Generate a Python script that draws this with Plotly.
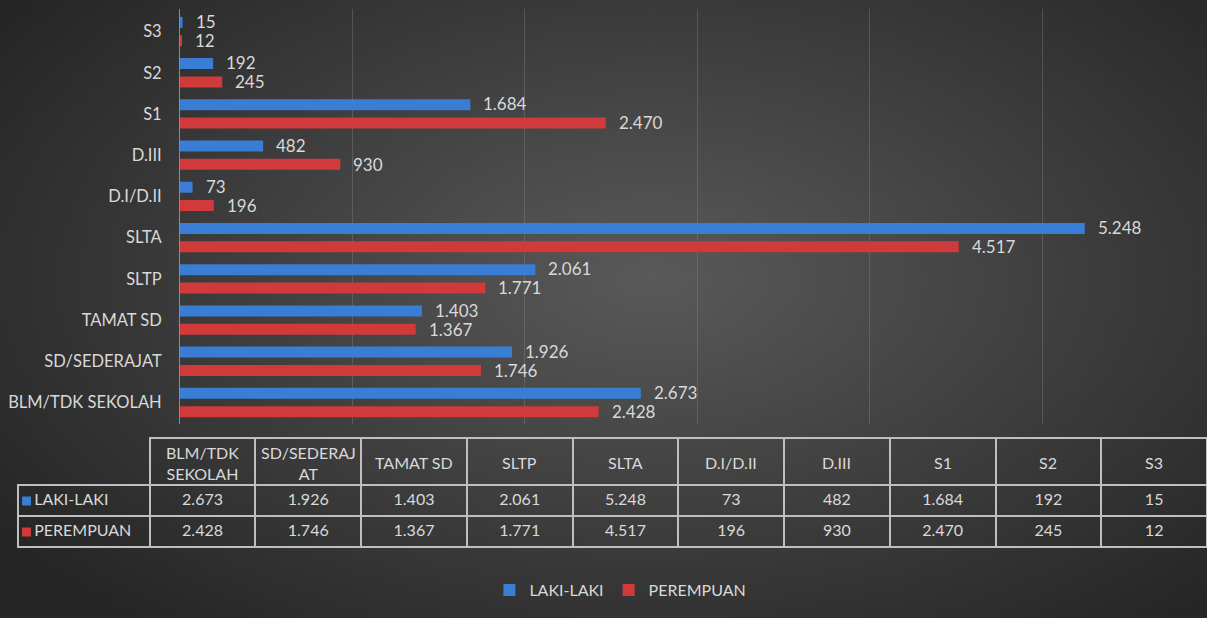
import base64
import struct
import zlib
import plotly.graph_objects as go

# ---------------- data ----------------
categories = ["BLM/TDK SEKOLAH", "SD/SEDERAJAT", "TAMAT SD", "SLTP", "SLTA",
              "D.I/D.II", "D.III", "S1", "S2", "S3"]
table_headers = ["BLM/TDK<br>SEKOLAH", "SD/SEDERAJ<br>AT", "TAMAT SD", "SLTP", "SLTA",
                 "D.I/D.II", "D.III", "S1", "S2", "S3"]
laki_laki = [2673, 1926, 1403, 2061, 5248, 73, 482, 1684, 192, 15]
perempuan = [2428, 1746, 1367, 1771, 4517, 196, 930, 2470, 245, 12]
series_names = ["LAKI-LAKI", "PEREMPUAN"]

# ---------------- style ----------------
W, H = 1207, 618
BLUE = "#3A7DD4"
RED = "#D03A3A"
TXT = "#D9D9D9"
FONT = "Lato"


def fmt(v):
    return f"{v:,}".replace(",", ".")


def gradient_png(w, h):
    # radial dark background (style only)
    cx, cy, rx, ry = 0.54 * w, 0.45 * h, 0.58 * w, 0.65 * h
    raw = bytearray()
    for j in range(h):
        raw.append(0)
        for i in range(w):
            t = (((i + 0.5) - cx) / rx) ** 2 + (((j + 0.5) - cy) / ry) ** 2
            t = t ** 0.5
            c = int(max(38, min(90, 90 - 46 * t)))
            raw += bytes((c, c, c))

    def chunk(tag, data):
        c = struct.pack(">I", len(data)) + tag + data
        return c + struct.pack(">I", zlib.crc32(tag + data) & 0xFFFFFFFF)

    png = b"\x89PNG\r\n\x1a\n"
    png += chunk(b"IHDR", struct.pack(">IIBBBBB", w, h, 8, 2, 0, 0, 0))
    png += chunk(b"IDAT", zlib.compress(bytes(raw), 9))
    png += chunk(b"IEND", b"")
    return "data:image/png;base64," + base64.b64encode(png).decode()


fig = go.Figure()

# PEREMPUAN first so that it sits below LAKI-LAKI in each group
fig.add_trace(go.Bar(y=categories, x=perempuan, orientation="h", name=series_names[1],
                     marker=dict(color=RED, line=dict(width=0)), legendrank=2,
                     hoverinfo="skip"))
fig.add_trace(go.Bar(y=categories, x=laki_laki, orientation="h", name=series_names[0],
                     marker=dict(color=BLUE, line=dict(width=0)), legendrank=1,
                     hoverinfo="skip"))

# data labels
annotations = []
for cat, v in zip(categories, laki_laki):
    annotations.append(dict(x=v, y=cat, xref="x", yref="y", text=fmt(v), showarrow=False,
                            xanchor="left", yanchor="middle", xshift=11, yshift=10,
                            font=dict(family=FONT, size=17, color=TXT)))
for cat, v in zip(categories, perempuan):
    annotations.append(dict(x=v, y=cat, xref="x", yref="y", text=fmt(v), showarrow=False,
                            xanchor="left", yanchor="middle", xshift=11, yshift=-9,
                            font=dict(family=FONT, size=17, color=TXT)))

# data table
first_col = ["\u00a0\u00a0" + series_names[0], "\u00a0\u00a0" + series_names[1]]
cell_values = [first_col] + [[fmt(a), fmt(b)] for a, b in zip(laki_laki, perempuan)]
LINE = "#BFBFBF"
TBL_LEFT, TBL_TOP = 18, 438
HDR_H, ROW_H = 47, 31
COL_W = [132] + [106] * len(categories)
fig.add_trace(go.Table(
    domain=dict(x=[TBL_LEFT / W, 1.0], y=[1 - 575 / H, 1 - TBL_TOP / H]),
    columnwidth=COL_W,
    header=dict(values=[""] * (len(categories) + 1), height=HDR_H,
                fill=dict(color="rgba(0,0,0,0)"),
                line=dict(color=["rgba(0,0,0,0)"] + [LINE] * len(categories), width=2),
                align="center", font=dict(family=FONT, size=16, color=TXT)),
    cells=dict(values=cell_values, height=ROW_H,
               fill=dict(color="rgba(0,0,0,0)"),
               line=dict(color=LINE, width=2),
               align=["left"] + ["center"] * len(categories),
               font=dict(family=FONT, size=16, color=TXT)),
))

# header labels, vertically centred in the header row
scale = (W - TBL_LEFT) / sum(COL_W)
x_left = TBL_LEFT + COL_W[0] * scale
for i, lab in enumerate(table_headers):
    xc = x_left + (sum(COL_W[1:i + 1]) + COL_W[i + 1] / 2) * scale
    annotations.append(dict(xref="paper", yref="paper", x=xc / W,
                            y=1 - (TBL_TOP + HDR_H / 2 + 1) / H,
                            text=lab, showarrow=False, xanchor="center", yanchor="middle",
                            font=dict(family=FONT, size=16, color=TXT)))

# coloured series keys inside the table's first column (small squares)
shapes = []
for k, col in enumerate([BLUE, RED]):
    yc = TBL_TOP + HDR_H + ROW_H * (k + 0.5)
    shapes.append(dict(type="rect", xref="paper", yref="paper",
                       x0=22 / W, x1=31 / W, y0=1 - (yc + 5) / H, y1=1 - (yc - 4) / H,
                       fillcolor=col, line=dict(width=0), layer="above"))

fig.update_layout(
    width=W, height=H,
    margin=dict(l=0, r=0, t=0, b=0),
    paper_bgcolor="#3A3A3A",
    plot_bgcolor="rgba(0,0,0,0)",
    barmode="group", bargap=0.11, bargroupgap=0.4,
    font=dict(family=FONT, size=16, color=TXT),
    images=[dict(source=gradient_png(242, 124), xref="paper", yref="paper",
                 x=0, y=1, sizex=1, sizey=1, xanchor="left", yanchor="top",
                 sizing="stretch", layer="below")],
    xaxis=dict(domain=[180 / W, 1.0], range=[0, 1027 / 172.4 * 1000],
               showticklabels=False, ticks="", dtick=1000, tick0=0,
               showgrid=True, gridcolor="rgba(140,140,140,0.35)", gridwidth=1,
               zeroline=False, showline=False, fixedrange=True),
    yaxis=dict(domain=[1 - 424 / H, 1 - 9 / H], type="category",
               categoryorder="array", categoryarray=categories,
               showline=True, linecolor="#8C8C8C", linewidth=1,
               ticks="", ticklabelstandoff=14, showgrid=False,
               tickfont=dict(family=FONT, size=16.5, color=TXT), fixedrange=True),
    showlegend=True,
    legend=dict(orientation="h", x=0.514, xanchor="center", y=1 - 590 / H, yanchor="middle",
                bgcolor="rgba(0,0,0,0)", font=dict(family=FONT, size=16, color=TXT),
                traceorder="normal", itemwidth=30),
    annotations=annotations,
    shapes=shapes,
)

fig.write_html("out.html", config={"displayModeBar": False},
               post_script="document.body.style.margin='0';document.body.style.padding='0';")
